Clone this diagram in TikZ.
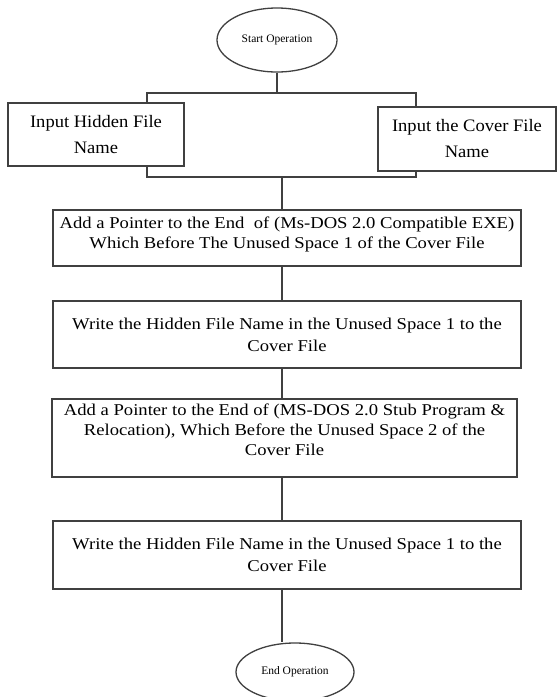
\documentclass[tikz,border=0pt]{standalone}
\usepackage{fontspec}
\setmainfont{Liberation Serif}
\newfontfamily\widefont[FakeStretch=1.13]{Liberation Serif}
\newfontfamily\midfont[FakeStretch=1.06]{Liberation Serif}
\usetikzlibrary{shapes.geometric}
\begin{document}
\begin{tikzpicture}[x=1pt,y=-1pt,
  line/.style={draw=black!75, line width=1.3pt},
  box/.style={line, rectangle, inner sep=0pt, align=center, text=black,
    font=\widefont\fontsize{16.5}{22}\selectfont},
  inbox/.style={box, font=\midfont\fontsize{17.5}{26}\selectfont},
  ell/.style={line, ellipse, inner sep=0pt, text=black,
    font=\fontsize{11.5}{13}\selectfont},
  conn/.style={draw=black!75, line width=1.3pt}]
\useasboundingbox (0,0) rectangle (557,697);
\node[ell, minimum width=120pt, minimum height=64pt] (start) at (277,40) {Start Operation};
\node[inbox, minimum width=176pt, minimum height=63pt] (hid) at (96,134.5) {Input Hidden File\\Name};
\node[inbox, minimum width=178pt, minimum height=64pt] (cov) at (467,139) {Input the Cover File\\Name};
\node[box, minimum width=468pt, minimum height=56pt, font=\widefont\fontsize{16.5}{20}\selectfont, text depth=10pt] (b1) at (287,238) {Add a Pointer to the End \ of (Ms-DOS 2.0 Compatible EXE)\\Which Before The Unused Space 1 of the Cover File};
\node[box, minimum width=468pt, minimum height=67pt] (b2) at (287,334.5) {Write the Hidden File Name in the Unused Space 1 to the\\Cover File};
\node[box, minimum width=465pt, minimum height=78pt, font=\widefont\fontsize{16.5}{20}\selectfont, text depth=16pt] (b3) at (284.5,438) {Add a Pointer to the End of (MS-DOS 2.0 Stub Program \&\\Relocation), Which Before the Unused Space 2 of the\\Cover File};
\node[box, minimum width=468pt, minimum height=68pt] (b4) at (287,555) {Write the Hidden File Name in the Unused Space 1 to the\\Cover File};
\node[ell, minimum width=118pt, minimum height=58pt] (end) at (295,672) {End Operation};
\coordinate (tl) at (147,93);
\coordinate (tr) at (416,93);
\coordinate (bl) at (147,177);
\coordinate (br) at (416,177);
\coordinate (bm) at (282,177);
\draw[conn] (start.south) -- (start.south |- tl);
\draw[conn] (tl |- hid.north) -- (tl) -- (tr) -- (tr |- cov.north);
\draw[conn] (bl |- hid.south) -- (bl) -- (br) -- (br |- cov.south);
\draw[conn] (bm) -- (bm |- b1.north);
\draw[conn] (bm |- b1.south) -- (bm |- b2.north);
\draw[conn] (bm |- b2.south) -- (bm |- b3.north);
\draw[conn] (bm |- b3.south) -- (bm |- b4.north);
\draw[conn] (bm |- b4.south) -- (bm |- end.north);
\end{tikzpicture}
\end{document}
